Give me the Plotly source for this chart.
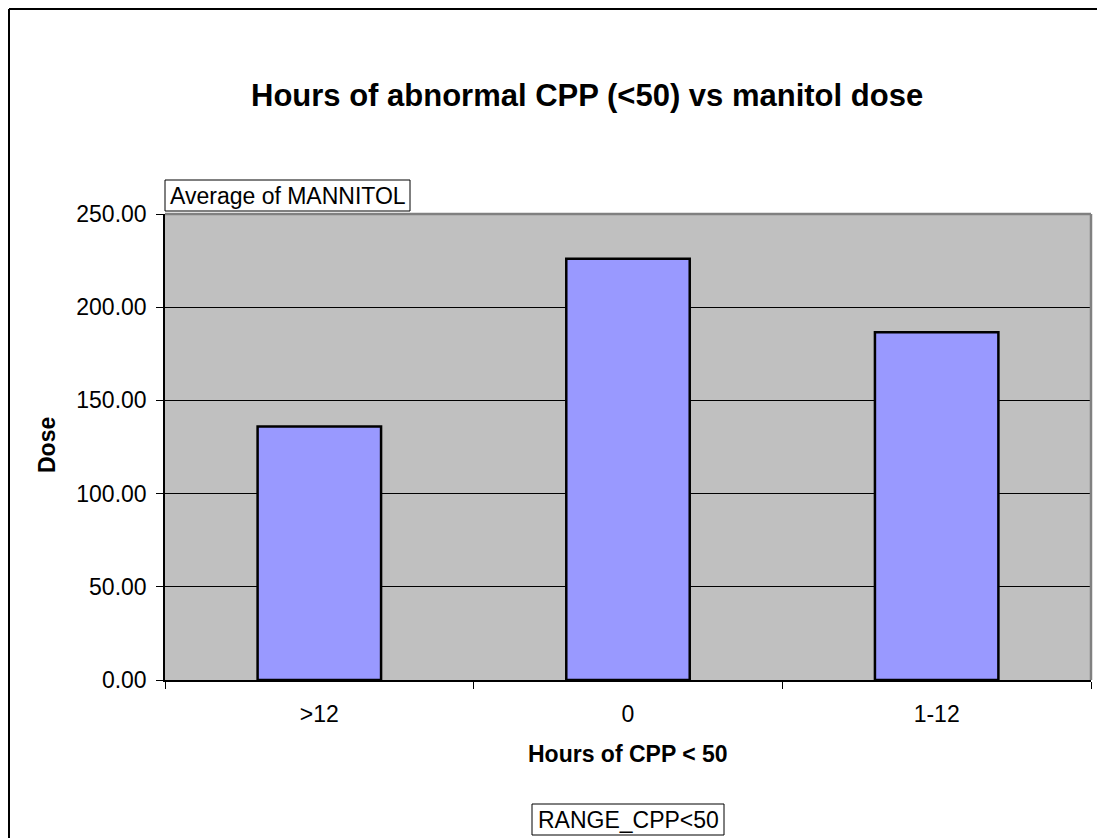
import plotly.graph_objects as go

categories = [">12", "0", "1-12"]
mannitol_avg = [136.0, 226.0, 186.5]
y_ticks = [0, 50, 100, 150, 200, 250]

# page offset of the figure (body margin)
OFF = 8
W, H = 1105 - OFF, 838 - OFF
# plot area in page pixels
L, R, T, B = 165, 1091, 214, 680
PW, PH = R - L, B - T

def px(x):
    return (x - L) / PW

def py(y):
    return (B - y) / PH

FONT = "Liberation Sans, Arial, sans-serif"

fig = go.Figure()
fig.add_trace(go.Bar(
    x=categories, y=mannitol_avg,
    marker=dict(color="#9999FF", line=dict(color="black", width=2.5)),
    width=0.4,
))

fig.update_layout(
    width=W, height=H,
    margin=dict(l=L - OFF, r=W - (R - OFF), t=T - OFF, b=H - (B - OFF)),
    paper_bgcolor="white", plot_bgcolor="#C0C0C0",
    showlegend=False,
    font=dict(family=FONT, size=23, color="black"),
    xaxis=dict(
        type="category", tickson="boundaries", ticks="outside", ticklen=7,
        tickcolor="black", showline=True, linecolor="black", linewidth=1.5,
        showgrid=False, tickfont=dict(size=23), ticklabelstandoff=13,
    ),
    yaxis=dict(
        range=[0, 250], tickvals=y_ticks, tickformat=".2f",
        ticks="outside", ticklen=7, tickcolor="black",
        showline=True, linecolor="black", linewidth=1.5,
        showgrid=True, gridcolor="black", gridwidth=1,
        zeroline=False, tickfont=dict(size=23), ticklabelstandoff=5,
    ),
    shapes=[
        # outer chart border (left and top visible)
        dict(type="line", xref="paper", yref="paper",
             x0=px(OFF + 1), x1=px(OFF + 1), y0=py(850), y1=py(OFF + 1),
             line=dict(color="black", width=2)),
        dict(type="line", xref="paper", yref="paper",
             x0=px(OFF + 1), x1=px(1120), y0=py(OFF + 1), y1=py(OFF + 1),
             line=dict(color="black", width=2)),
        # plot area border (top/right gray)
        dict(type="line", xref="paper", yref="paper", x0=0, x1=1, y0=1, y1=1,
             line=dict(color="#808080", width=2.5)),
        dict(type="line", xref="paper", yref="paper", x0=1, x1=1, y0=0, y1=1,
             line=dict(color="#808080", width=2.5)),
        # Average of MANNITOL box
        dict(type="rect", xref="paper", yref="paper",
             x0=px(165), x1=px(410), y0=py(211), y1=py(180),
             line=dict(color="black", width=1), fillcolor="white"),
        # RANGE box
        dict(type="rect", xref="paper", yref="paper",
             x0=px(532), x1=px(724), y0=py(835), y1=py(804),
             line=dict(color="black", width=1), fillcolor="white"),
    ],
    annotations=[
        dict(text="<b>Hours of abnormal CPP (&lt;50) vs manitol dose</b>",
             xref="paper", yref="paper", x=px(587), y=py(95),
             showarrow=False, font=dict(size=31), xanchor="center", yanchor="middle"),
        dict(text="Average of MANNITOL", xref="paper", yref="paper",
             x=px(288), y=py(196), showarrow=False, xanchor="center", yanchor="middle",
             font=dict(size=23)),
        dict(text="RANGE_CPP&lt;50", xref="paper", yref="paper",
             x=px(628), y=py(820), showarrow=False, xanchor="center", yanchor="middle",
             font=dict(size=23)),
        dict(text="<b>Hours of CPP &lt; 50</b>", xref="paper", yref="paper",
             x=px(628), y=py(754), showarrow=False, xanchor="center", yanchor="middle",
             font=dict(size=23)),
        dict(text="<b>Dose</b>", xref="paper", yref="paper",
             x=px(47), y=py(445), showarrow=False, xanchor="center", yanchor="middle",
             textangle=-90, font=dict(size=23)),
    ],
)

fig.write_html("out.html")
